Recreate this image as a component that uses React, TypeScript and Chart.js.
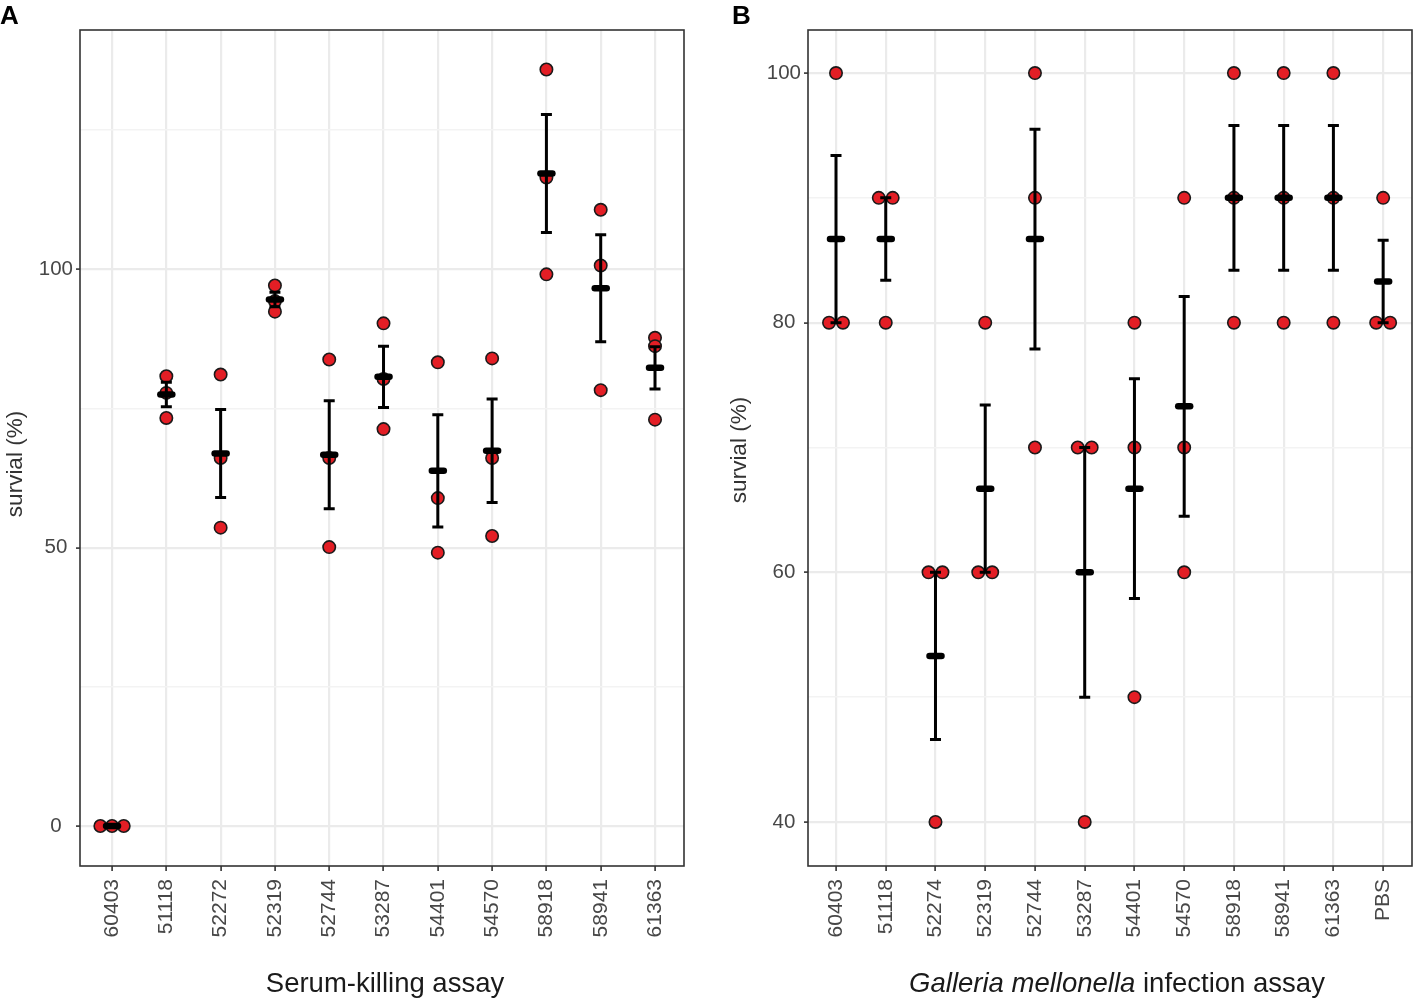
import { useEffect, useRef } from 'react'
import { Chart, registerables } from 'chart.js'

Chart.register(...registerables)

const FONT = '"Liberation Sans", Arial, Helvetica, sans-serif'

// Panel A: serum-killing assay
const serumStrains = ['60403', '51118', '52272', '52319', '52744', '53287', '54401', '54570', '58918', '58941', '61363']
const serumRep1 = [0, 80.8, 81.1, 97.1, 83.8, 90.3, 83.3, 84.0, 135.9, 110.7, 87.7]
const serumRep2 = [0, 77.8, 66.1, 94.3, 66.1, 80.3, 58.9, 66.1, 116.5, 100.7, 86.2]
const serumRep3 = [0, 73.3, 53.6, 92.4, 50.1, 71.3, 49.1, 52.1, 99.1, 78.3, 73.0]
const serumMean = [0, 77.5, 66.9, 94.6, 66.7, 80.7, 63.8, 67.4, 117.2, 96.6, 82.3]
const serumSE = [0, 2.2, 7.9, 1.3, 9.7, 5.5, 10.1, 9.3, 10.6, 9.6, 3.8]
const serumMajorTicks = [0, 50, 100]
const serumMinorTicks = [25, 75, 125]

// Panel B: Galleria mellonella infection assay
const galleriaStrains = ['60403', '51118', '52274', '52319', '52744', '53287', '54401', '54570', '58918', '58941', '61363', 'PBS']
const galleriaRep1 = [100, 90, 60, 80, 100, 70, 80, 90, 100, 100, 100, 90]
const galleriaRep2 = [80, 90, 60, 60, 90, 70, 70, 70, 90, 90, 90, 80]
const galleriaRep3 = [80, 80, 40, 60, 70, 40, 50, 60, 80, 80, 80, 80]
const galleriaMean = [86.7, 86.7, 53.3, 66.7, 86.7, 60, 66.7, 73.3, 90, 90, 90, 83.3]
const galleriaSE = [6.7, 3.3, 6.7, 6.7, 8.8, 10, 8.8, 8.8, 5.8, 5.8, 5.8, 3.3]
const galleriaMajorTicks = [40, 60, 80, 100]
const galleriaMinorTicks = [50, 70, 90]

type TitlePart = { text: string; italic?: boolean }

type PanelProps = {
  categories: string[]
  reps: number[][]
  means: number[]
  ses: number[]
  majorTicks: number[]
  minorTicks: number[]
  yMin: number
  yMax: number
  xMin: number
  xMax: number
  dodge: number
  xTitle: TitlePart[]
  xTitleShift: number
  yTitleY: number
  yAxisWidth: number
  padRight: number
}

// spread identical replicate values sideways, like a dodged dot plot
const buildPoints = (reps: number[][], n: number, dodge: number) => {
  const pts: { x: number; y: number }[] = []
  for (let i = 0; i < n; i++) {
    const vals = reps.map((r) => r[i])
    vals.forEach((v, k) => {
      const same = vals.filter((u) => u === v).length
      const rank = vals.slice(0, k).filter((u) => u === v).length
      pts.push({ x: i + (rank - (same - 1) / 2) * dodge, y: v })
    })
  }
  return pts
}

const Panel = (props: PanelProps) => {
  const chartRef = useRef<HTMLCanvasElement | null>(null)

  useEffect(() => {
    const canvas = chartRef.current
    if (!canvas) return
    const { categories, means, ses, majorTicks, minorTicks } = props
    const allTicks = [...majorTicks, ...minorTicks].sort((a, b) => a - b)

    const overlay = {
      id: 'overlay',
      afterDatasetsDraw(chart: Chart) {
        const { ctx, chartArea } = chart
        const x = chart.scales.x
        const y = chart.scales.y
        ctx.save()
        ctx.strokeStyle = '#000'
        means.forEach((m, i) => {
          const px = x.getPixelForValue(i)
          const top = y.getPixelForValue(m + ses[i])
          const bot = y.getPixelForValue(m - ses[i])
          ctx.lineCap = 'butt'
          ctx.lineWidth = 3
          ctx.beginPath()
          ctx.moveTo(px, top)
          ctx.lineTo(px, bot)
          ctx.moveTo(px - 5.5, top)
          ctx.lineTo(px + 5.5, top)
          ctx.moveTo(px - 5.5, bot)
          ctx.lineTo(px + 5.5, bot)
          ctx.stroke()
          const my = y.getPixelForValue(m)
          ctx.lineCap = 'round'
          ctx.lineWidth = 6.5
          ctx.beginPath()
          ctx.moveTo(px - 6, my)
          ctx.lineTo(px + 6, my)
          ctx.stroke()
        })

        // panel border
        ctx.lineCap = 'butt'
        ctx.lineWidth = 1.6
        ctx.strokeStyle = '#333'
        ctx.strokeRect(chartArea.left, chartArea.top, chartArea.right - chartArea.left, chartArea.bottom - chartArea.top)

        // x title (may mix italic and upright parts)
        ctx.fillStyle = '#1a1a1a'
        ctx.textBaseline = 'alphabetic'
        ctx.textAlign = 'left'
        const fonts = props.xTitle.map((p) => `${p.italic ? 'italic ' : ''}27.5px ${FONT}`)
        const widths = props.xTitle.map((p, k) => {
          ctx.font = fonts[k]
          return ctx.measureText(p.text).width
        })
        const total = widths.reduce((a, b) => a + b, 0)
        let tx = (chartArea.left + chartArea.right) / 2 - total / 2 + props.xTitleShift
        props.xTitle.forEach((p, k) => {
          ctx.font = fonts[k]
          ctx.fillText(p.text, tx, 992)
          tx += widths[k]
        })

        // y title
        ctx.font = `22.5px ${FONT}`
        ctx.textAlign = 'center'
        ctx.textBaseline = 'middle'
        ctx.fillStyle = '#333'
        ctx.translate(16, props.yTitleY)
        ctx.rotate(-Math.PI / 2)
        ctx.fillText('survial (%)', 0, 0)
        ctx.restore()
      },
    }

    const chart = new Chart(canvas, {
      type: 'scatter',
      data: {
        datasets: [
          {
            data: buildPoints(props.reps, categories.length, props.dodge),
            backgroundColor: '#e31e25',
            borderColor: '#1a1a1a',
            borderWidth: 1.6,
            pointRadius: 6.2,
            pointHoverRadius: 6.2,
          },
        ],
      },
      options: {
        responsive: true,
        maintainAspectRatio: false,
        animation: false,
        events: [],
        layout: { padding: { top: 30, right: props.padRight, bottom: 0, left: 0 } },
        plugins: {
          legend: { display: false },
          tooltip: { enabled: false },
        },
        scales: {
          x: {
            type: 'linear',
            min: props.xMin,
            max: props.xMax,
            afterBuildTicks: (axis) => {
              axis.ticks = categories.map((_, i) => ({ value: i }))
            },
            afterFit: (axis) => {
              axis.height = 134
            },
            ticks: {
              callback: (v) => categories[v as number] ?? '',
              autoSkip: false,
              minRotation: 90,
              maxRotation: 90,
              padding: 8,
              color: '#474747',
              font: { family: FONT, size: 21 },
            },
            grid: { color: '#ebebeb', lineWidth: 2.2, tickColor: '#333', tickWidth: 1.6, tickLength: 5 },
            border: { display: false },
          },
          y: {
            type: 'linear',
            min: props.yMin,
            max: props.yMax,
            afterBuildTicks: (axis) => {
              axis.ticks = allTicks.map((v) => ({ value: v }))
            },
            afterFit: (axis) => {
              axis.width = props.yAxisWidth
            },
            ticks: {
              callback: (v) => (majorTicks.includes(v as number) ? String(v) : ''),
              crossAlign: 'center',
              padding: 3,
              color: '#474747',
              font: { family: FONT, size: 20.5 },
            },
            grid: {
              color: (c) => (majorTicks.includes(c.tick.value) ? '#ebebeb' : '#f3f3f3'),
              lineWidth: (c) => (majorTicks.includes(c.tick.value) ? 2.2 : 1.5),
              tickColor: (c) => (majorTicks.includes(c.tick.value) ? '#333' : 'rgba(0,0,0,0)'),
              tickWidth: 1.6,
              tickLength: 4,
            },
            border: { display: false },
          },
        },
      },
      plugins: [overlay],
    })

    return () => {
      chart.destroy()
    }
  }, [])

  return <canvas ref={chartRef} />
}

const letterStyle = {
  position: 'absolute' as const,
  top: 2,
  fontFamily: FONT,
  fontWeight: 'bold' as const,
  fontSize: 26,
  lineHeight: 1,
  color: '#000',
}

export default function App() {
  return (
    <div style={{ position: 'absolute', left: 0, top: 0, width: 1413, height: 1000, background: '#fff', overflow: 'hidden' }}>
      <div style={{ position: 'absolute', left: 0, top: 0, width: 706, height: 1000 }}>
        <Panel
          categories={serumStrains}
          reps={[serumRep1, serumRep2, serumRep3]}
          means={serumMean}
          ses={serumSE}
          majorTicks={serumMajorTicks}
          minorTicks={serumMinorTicks}
          yMin={-7.19}
          yMax={143}
          xMin={-0.59}
          xMax={10.534}
          dodge={0.215}
          xTitle={[{ text: 'Serum-killing assay' }]}
          xTitleShift={3}
          yTitleY={464}
          yAxisWidth={80}
          padRight={22}
        />
      </div>
      {/* panel B runs past the page edge so its right-hand label padding is cropped */}
      <div style={{ position: 'absolute', left: 724, top: 0, width: 711, height: 1000 }}>
        <Panel
          categories={galleriaStrains}
          reps={[galleriaRep1, galleriaRep2, galleriaRep3]}
          means={galleriaMean}
          ses={galleriaSE}
          majorTicks={galleriaMajorTicks}
          minorTicks={galleriaMinorTicks}
          yMin={36.47}
          yMax={103.45}
          xMin={-0.563}
          xMax={11.58}
          dodge={0.28}
          xTitle={[{ text: 'Galleria mellonella', italic: true }, { text: ' infection assay' }]}
          xTitleShift={7}
          yTitleY={450}
          yAxisWidth={84}
          padRight={23}
        />
      </div>
      <div style={{ ...letterStyle, left: 0 }}>A</div>
      <div style={{ ...letterStyle, left: 732 }}>B</div>
    </div>
  )
}
